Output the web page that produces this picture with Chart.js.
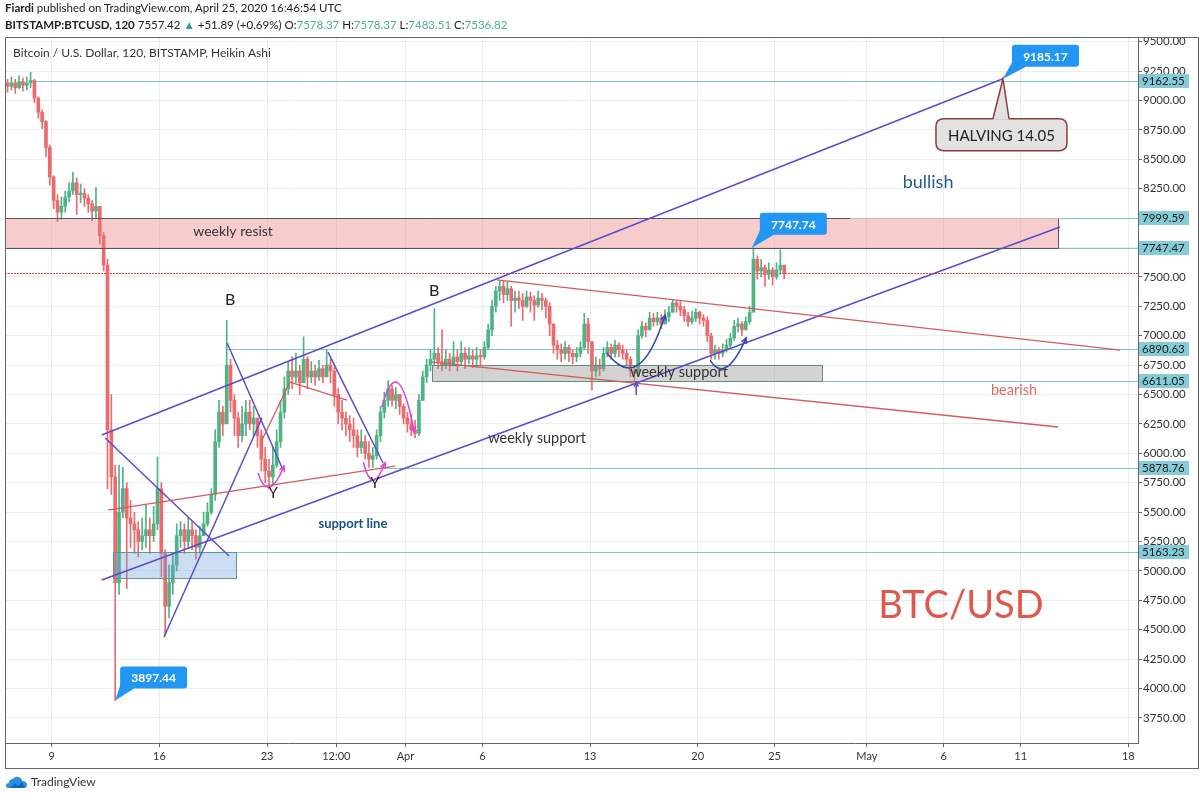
<!DOCTYPE html>
<html><head><meta charset="utf-8">
<script src="https://cdn.jsdelivr.net/npm/chart.js@4.4.1/dist/chart.umd.min.js"></script>
<style>
html,body{margin:0;padding:0;background:#fff;}
#wrap{position:relative;width:1200px;height:800px;overflow:hidden;}
#c{position:absolute;left:0;top:0;}
.hdr{position:absolute;left:5px;font-family:Lato,"Liberation Sans",sans-serif;font-size:11.5px;color:#222;white-space:nowrap;}
.v{color:#4fae95;}
#tv{position:absolute;left:6px;top:774px;font-family:Lato,"Liberation Sans",sans-serif;font-size:12px;color:#333;display:flex;align-items:center;gap:3px;}
</style></head><body>
<div id="wrap">
<canvas id="c" width="1200" height="800"></canvas>
<div class="hdr" style="top:1px"><b>Fiardi</b> published on TradingView.com, April 25, 2020 16:46:54 UTC</div>
<div class="hdr" style="top:18px"><b>BITSTAMP:BTCUSD, 120</b> 7557.42 <span style="color:#26a69a">&#9650;</span> +51.89 (+0.69%) O:<span class="v">7578.37</span> H:<span class="v">7578.37</span> L:<span class="v">7483.51</span> C:<span class="v">7536.82</span></div>
<div id="tv"><svg width="22" height="14" viewBox="0 0 22 14"><path d="M2 13 Q0 13 0 10.5 Q0 8 3 8 Q3 4 7 4 Q9 1 12.5 2 Q16 3 16 6 Q21 6 21 10 Q21 13 18 13 Z" fill="#2a8fe0"/><path d="M4 13 L9 8 L12 11 L16 7 L19 13 Z" fill="#1565c0"/></svg><span>TradingView</span></div>
</div>
<script>
// ---------- DATA ----------
const xTickValues = [9, 16, 23, 27.5, 32, 37, 44, 51, 56, 62, 67, 72, 79];
const xTickLabels = ['9', '16', '23', '12:00', 'Apr', '6', '13', '20', '25', 'May', '6', '11', '18'];
const yTickValues = [3750, 4000, 4250, 4500, 4750, 5000, 5250, 5500, 5750, 6000, 6250, 6500, 6750, 7000, 7250, 7500, 7750, 8000, 8250, 8500, 8750, 9000, 9250, 9500];
const levelPrices = [9162.55, 7999.59, 7747.47, 6890.63, 6611.05, 5878.76, 5163.23];
const levelStarts = [7.72, 74.43, 74.43, 20.40, 59.08, 30.35, 20.98];
const lastPrice = 7536.82;

// 6-hour Heikin Ashi candles, first one starts Mar 6 00:00 (x = day of month, Apr 1 = 32)
const firstDay = 6;
const candleStep = 0.25;
const firstOpen = 9150;
const closes = [
 9120, 9150, 9110, 9160,  9130, 9150, 9170, 9020,  8900, 8820, 8600, 8350,
 8150, 8050, 8100, 8180,  8230, 8300, 8200, 8210,  8170, 8120, 8060, 8100,
 7850, 7600, 6200, 5800,  4900, 5500, 5700, 5450,  5400, 5350, 5250, 5300,
 5350, 5300, 5400, 5700,  5150, 4700, 4900, 5050,  5300, 5350, 5250, 5350,
 5300, 5200, 5300, 5400,  5500, 5650, 6100, 6350,  6250, 6750, 6450, 6300,
 6150, 6250, 6350, 6250,  6300, 6150, 5950, 5850,  5800, 5900, 6100, 6350,
 6550, 6700, 6650, 6700,  6600, 6800, 6650, 6700,  6650, 6720, 6650, 6750,
 6700, 6500, 6350, 6300,  6250, 6200, 6150, 6050,  6100, 6000, 5950, 5980,
 6150, 6350, 6450, 6550,  6450, 6500, 6400, 6300,  6250, 6200, 6170, 6450,
 6650, 6750, 6800, 6850,  6780, 6750, 6800, 6760,  6820, 6780, 6850, 6800,
 6830, 6800, 6830, 6820,  6900, 7050, 7250, 7380,  7420, 7350, 7400, 7300,
 7320, 7300, 7250, 7330,  7300, 7260, 7320, 7300,  7250, 7100, 6920, 6880,
 6850, 6900, 6850, 6820,  6850, 6900, 7100, 6950,  6700, 6750, 6720, 6850,
 6900, 6850, 6920, 6880,  6850, 6800, 6700, 6680,  7000, 7080, 7050, 7150,
 7120, 7150, 7100, 7160,  7200, 7280, 7250, 7220,  7170, 7120, 7150, 7200,
 7150, 7130, 7000, 6850,  6880, 6850, 6880, 6920,  6980, 7080, 7100, 7050,
 7120, 7200, 7650, 7550,  7580, 7520, 7560, 7500,  7560, 7600, 7536.82
];
const highs = [
 9180, 9200, 9180, 9210,  9190, 9200, 9240, 9180,  9030, 8920, 8830, 8620,
 8360, 8200, 8180, 8230,  8300, 8390, 8340, 8290,  8250, 8200, 8150, 8260,
 8100, 7880, 7650, 6500,  5900, 5900, 5880, 5750,  5600, 5500, 5420, 5450,
 5560, 5450, 5550, 5970,  5750, 5180, 5050, 5150,  5400, 5420, 5400, 5450,
 5420, 5350, 5380, 5500,  5580, 5700, 6200, 6450,  6400, 7130, 6800, 6500,
 6350, 6400, 6450, 6450,  6400, 6300, 6200, 6050,  5950, 6050, 6200, 6450,
 6650, 6780, 6820, 6850,  6750, 6990, 6820, 6780,  6750, 6790, 6750, 6880,
 6800, 6730, 6550, 6450,  6350, 6320, 6300, 6200,  6200, 6150, 6100, 6050,
 6200, 6400, 6520, 6620,  6580, 6560, 6500, 6420,  6350, 6330, 6280, 6500,
 6700, 6800, 6880, 7230,  6900, 7050, 6880, 6850,  6950, 6880, 6950, 6900,
 6900, 6880, 6900, 6880,  6950, 7100, 7300, 7420,  7470, 7470, 7460, 7420,
 7380, 7380, 7360, 7380,  7370, 7340, 7380, 7360,  7320, 7280, 7100, 6960,
 6930, 6950, 6920, 6880,  6900, 6950, 7190, 7150,  6950, 6820, 6800, 6900,
 6950, 6930, 6960, 6940,  6920, 6880, 6820, 6750,  7050, 7120, 7110, 7200,
 7190, 7200, 7180, 7220,  7250, 7310, 7300, 7290,  7250, 7200, 7210, 7230,
 7210, 7180, 7160, 7020,  6920, 6900, 6930, 6970,  7020, 7130, 7150, 7120,
 7160, 7250, 7747.74, 7680,  7650, 7600, 7620, 7580,  7620, 7730, 7600
];
const lows = [
 9070, 9090, 9060, 9100,  9080, 9090, 9110, 8980,  8850, 8760, 8520, 8280,
 8080, 7970, 7990, 8050,  8140, 8200, 8030, 8130,  8100, 8050, 7980, 8000,
 7780, 7550, 5700, 5650,  3897.44, 4800, 5450, 4850,  5200, 5150, 5120, 5180,
 5200, 5150, 5250, 5350,  4950, 4450, 4600, 4800,  5000, 5200, 5150, 5200,
 5180, 5100, 5150, 5300,  5380, 5480, 5600, 6050,  6150, 6300, 6350, 6150,
 6050, 6100, 6150, 6200,  6150, 6050, 5850, 5750,  5700, 5720, 5880, 6050,
 6300, 6500, 6550, 6600,  6500, 6600, 6550, 6600,  6580, 6620, 6600, 6650,
 6600, 6400, 6250, 6200,  6150, 6100, 6050, 5970,  6000, 5950, 5880, 5880,
 5950, 6100, 6300, 6400,  6400, 6380, 6330, 6250,  6180, 6150, 6130, 6150,
 6450, 6600, 6700, 6750,  6720, 6700, 6720, 6700,  6740, 6700, 6750, 6720,
 6760, 6730, 6730, 6750,  6800, 6880, 7000, 7200,  7300, 7280, 7300, 7080,
 7200, 7230, 7130, 7240,  7200, 7130, 7240, 7220,  7150, 7000, 6850, 6800,
 6780, 6800, 6780, 6760,  6780, 6820, 6880, 6850,  6540, 6650, 6660, 6700,
 6820, 6800, 6820, 6820,  6800, 6750, 6650, 6620,  6650, 6980, 6990, 7050,
 7080, 7090, 7060, 7100,  7120, 7200, 7200, 7170,  7120, 7080, 7100, 7120,
 7100, 7080, 6950, 6800,  6800, 6800, 6820, 6860,  6900, 6960, 7030, 7000,
 7050, 7100, 7200, 7480,  7500, 7420, 7480, 7430,  7480, 7520, 7483.51
];

// ---------- DRAWINGS (data coordinates: [day, price]) ----------
const PURPLE = '#5a4ccf', REDL = '#d65a5a', MAGENTA = '#e040d8', NAVY = '#3347b8';
const trendLines = [
  { a: [12.25, 6156], b: [70.85, 9185.17], c: PURPLE, w: 1.5 },
  { a: [12.25, 4923], b: [74.56, 7924], c: PURPLE, w: 1.5 },
  { a: [12.47, 6130], b: [20.53, 5127], c: PURPLE, w: 1.5 },
  { a: [16.30, 4438], b: [22.67, 6300], c: PURPLE, w: 1.5 },
  { a: [20.40, 6938], b: [24.04, 5858], c: PURPLE, w: 1.5 },
  { a: [26.96, 6861], b: [30.54, 5918], c: PURPLE, w: 1.5 },
  { a: [12.66, 5518], b: [31.32, 5892], c: REDL, w: 1.3 },
  { a: [22.67, 6113], b: [24.49, 6606], c: REDL, w: 1.3 },
  { a: [24.49, 6606], b: [28.20, 6453], c: REDL, w: 1.3 },
  { a: [33.73, 6776], b: [74.43, 6224], c: REDL, w: 1.3 },
  { a: [37.96, 7474], b: [78.47, 6878], c: REDL, w: 1.3 }
];
const zones = [
  { x0: 5.96, x1: 74.43, p0: 7747.47, p1: 7999.59, fill: 'rgba(232,128,128,0.40)', stroke: '#555' },
  { x0: 33.73, x1: 59.08, p0: 6611.05, p1: 6751, fill: 'rgba(150,150,150,0.42)', stroke: '#5e9278' },
  { x0: 12.98, x1: 20.98, p0: 4940, p1: 5163.23, fill: 'rgba(110,160,220,0.35)', stroke: '#5e9a88' }
];
const arcs = [
  { a: [22.41, 5832], c: [23.07, 5562], b: [24.10, 5892], col: MAGENTA },
  { a: [29.26, 5926], c: [29.82, 5624], b: [30.67, 5918], col: MAGENTA },
  { a: [30.47, 6394], c: [31.52, 6908], b: [32.57, 6181], col: MAGENTA },
  { a: [45.10, 6853], c: [47.23, 6487], b: [48.88, 7176], col: NAVY },
  { a: [51.81, 6793], c: [52.78, 6581], b: [54.15, 6980], col: NAVY }
];
const notes = [
  { t: 'weekly resist', x: 20.79, p: 7890, size: 14, color: '#333', bold: false },
  { t: 'B', x: 20.60, p: 7304, size: 16, color: '#222', bold: false },
  { t: 'B', x: 33.86, p: 7380, size: 16, color: '#222', bold: false },
  { t: 'Y', x: 23.39, p: 5662, size: 15, color: '#222', bold: false },
  { t: 'Y', x: 30.02, p: 5747, size: 15, color: '#222', bold: false },
  { t: 'weekly support', x: 40.56, p: 6130, size: 14.5, color: '#333', bold: false },
  { t: 'weekly support', x: 49.79, p: 6691, size: 14.5, color: '#333', bold: false },
  { t: 'support line', x: 28.58, p: 5399, size: 13, color: '#1d4f8c', bold: true },
  { t: 'bullish', x: 65.98, p: 8307, size: 18, color: '#235a93', bold: false },
  { t: 'bearish', x: 71.57, p: 6538, size: 14.5, color: '#df6b5d', bold: false },
  { t: 'BTC/USD', x: 68.12, p: 4702, size: 38, color: '#e0584a', bold: false }
];
const callouts = [
  { t: '9185.17', x: 70.85, p: 9185.17, dx: 9, dy: -34 },
  { t: '7747.74', x: 54.52, p: 7747.74, dx: 8, dy: -35 },
  { t: '3897.44', x: 13.12, p: 3897.44, dx: 5, dy: -34 }
];
const halving = { t: 'HALVING 14.05', x: 70.85, p: 9185.17 };

// ---------- BUILD ----------
const GREEN = '#4fb386', RED = '#ec6a6e';
const FONT = 'Lato, "Liberation Sans", sans-serif';
const candles = closes.map((c, i) => ({
  x: firstDay + i * candleStep + candleStep / 2,
  o: i === 0 ? firstOpen : closes[i - 1],
  c: c, h: highs[i], l: lows[i]
}));
const colorOf = k => (k.c >= k.o ? GREEN : RED);

function arrowHead(ctx, fx, fy, tx, ty, len) {
  const ang = Math.atan2(ty - fy, tx - fx);
  ctx.beginPath();
  ctx.moveTo(tx - len * Math.cos(ang - 0.45), ty - len * Math.sin(ang - 0.45));
  ctx.lineTo(tx, ty);
  ctx.lineTo(tx - len * Math.cos(ang + 0.45), ty - len * Math.sin(ang + 0.45));
  ctx.stroke();
}
function rrect(ctx, x, y, w, h, r) {
  ctx.beginPath();
  ctx.moveTo(x + r, y); ctx.lineTo(x + w - r, y); ctx.quadraticCurveTo(x + w, y, x + w, y + r);
  ctx.lineTo(x + w, y + h - r); ctx.quadraticCurveTo(x + w, y + h, x + w - r, y + h);
  ctx.lineTo(x + r, y + h); ctx.quadraticCurveTo(x, y + h, x, y + h - r);
  ctx.lineTo(x, y + r); ctx.quadraticCurveTo(x, y, x + r, y); ctx.closePath();
}

const drawings = {
  id: 'drawings',
  beforeDatasetsDraw(chart) {
    const { ctx, chartArea: A, scales: { x, y } } = chart;
    ctx.save();
    ctx.beginPath(); ctx.rect(A.left, A.top, A.right - A.left, A.bottom - A.top); ctx.clip();
    ctx.strokeStyle = '#80c6d6'; ctx.lineWidth = 1;
    levelPrices.forEach((p, i) => {
      const py = Math.round(y.getPixelForValue(p)) + 0.5;
      ctx.beginPath(); ctx.moveTo(x.getPixelForValue(levelStarts[i]), py); ctx.lineTo(A.right, py); ctx.stroke();
    });
    // last price: red dotted line
    const lp = Math.round(y.getPixelForValue(lastPrice));
    ctx.fillStyle = '#e5484d';
    for (let px = Math.round(A.left); px < A.right; px += 3) ctx.fillRect(px, lp, 2, 1);
    ctx.restore();
  },
  afterDatasetsDraw(chart) {
    const { ctx, chartArea: A, scales: { x, y } } = chart;
    const X = v => x.getPixelForValue(v), Y = v => y.getPixelForValue(v);
    ctx.save();
    ctx.beginPath(); ctx.rect(A.left, A.top, A.right - A.left, A.bottom - A.top); ctx.clip();
    // zones
    zones.forEach((z, i) => {
      const x0 = Math.round(X(z.x0)) + 0.5, x1 = Math.round(X(z.x1)) + 0.5;
      const y0 = Math.round(Y(z.p1)) + 0.5, y1 = Math.round(Y(z.p0)) + 0.5;
      ctx.fillStyle = z.fill; ctx.fillRect(x0, y0, x1 - x0, y1 - y0);
      ctx.strokeStyle = z.stroke; ctx.lineWidth = 1;
      if (i === 0) {
        ctx.beginPath();
        ctx.moveTo(x0, y0); ctx.lineTo(X(60.91), y0);
        ctx.moveTo(x0, y1); ctx.lineTo(x1, y1); ctx.lineTo(x1, y0);
        ctx.stroke();
        ctx.strokeStyle = '#d9b0b0';
        ctx.beginPath(); ctx.moveTo(X(60.91), y0); ctx.lineTo(x1, y0); ctx.stroke();
      } else {
        ctx.strokeRect(x0, y0, x1 - x0, y1 - y0);
      }
    });
    // trend lines
    trendLines.forEach(l => {
      ctx.strokeStyle = l.c; ctx.lineWidth = l.w;
      ctx.beginPath(); ctx.moveTo(X(l.a[0]), Y(l.a[1])); ctx.lineTo(X(l.b[0]), Y(l.b[1])); ctx.stroke();
    });
    // arcs with arrows
    arcs.forEach(c => {
      ctx.strokeStyle = c.col; ctx.lineWidth = 1.5;
      const ax = X(c.a[0]), ay = Y(c.a[1]), cx = X(c.c[0]), cy = Y(c.c[1]), bx = X(c.b[0]), by = Y(c.b[1]);
      ctx.beginPath(); ctx.moveTo(ax, ay); ctx.quadraticCurveTo(cx, cy, bx, by); ctx.stroke();
      arrowHead(ctx, cx, cy, bx, by, 6);
    });
    // small up arrow
    ctx.strokeStyle = PURPLE; ctx.lineWidth = 1.5;
    ctx.beginPath(); ctx.moveTo(X(47.0), Y(6496)); ctx.lineTo(X(47.0), Y(6606)); ctx.stroke();
    arrowHead(ctx, X(47.0), Y(6496), X(47.0), Y(6606), 5);
    // text notes
    ctx.textAlign = 'center'; ctx.textBaseline = 'middle';
    notes.forEach(n => {
      ctx.fillStyle = n.color;
      ctx.font = (n.bold ? 'bold ' : '') + n.size + 'px ' + FONT;
      ctx.fillText(n.t, X(n.x), Y(n.p));
    });
    ctx.restore();

    // halving box
    ctx.save();
    const hx = X(halving.x), hy = Y(halving.p);
    const bx = hx - 67, by = hy + 40, bw = 131, bh = 32;
    ctx.fillStyle = '#e2e2e2'; ctx.strokeStyle = '#8e3c3c'; ctx.lineWidth = 1.5;
    rrect(ctx, bx, by, bw, bh, 8); ctx.fill(); ctx.stroke();
    ctx.beginPath(); ctx.moveTo(hx - 10, by + 1); ctx.lineTo(hx, hy); ctx.lineTo(hx + 6, by + 1); ctx.closePath();
    ctx.fill();
    ctx.beginPath(); ctx.moveTo(hx - 10, by); ctx.lineTo(hx, hy); ctx.lineTo(hx + 6, by); ctx.stroke();
    ctx.fillStyle = '#222'; ctx.font = '15px ' + FONT; ctx.textAlign = 'center'; ctx.textBaseline = 'middle';
    ctx.fillText(halving.t, bx + bw / 2, by + bh / 2 + 1);
    // callouts
    callouts.forEach(c => {
      const ax = X(c.x), ay = Y(c.p);
      const cx = ax + c.dx, cy = ay + c.dy, w = 67, h = 22;
      ctx.fillStyle = '#2196f3';
      rrect(ctx, cx, cy, w, h, 3); ctx.fill();
      ctx.beginPath(); ctx.moveTo(cx + 1, cy + h - 6); ctx.lineTo(cx + 14, cy + h); ctx.lineTo(ax, ay); ctx.closePath(); ctx.fill();
      ctx.fillStyle = '#fff'; ctx.font = 'bold 12px ' + FONT;
      ctx.fillText(c.t, cx + w / 2, cy + h / 2 + 1);
    });
    ctx.restore();
  },
  afterDraw(chart) {
    const { ctx, chartArea: A, scales: { y } } = chart;
    ctx.save();
    // level labels on the price axis
    ctx.font = '11.5px ' + FONT; ctx.textAlign = 'left'; ctx.textBaseline = 'middle';
    levelPrices.forEach(p => {
      const py = Math.round(y.getPixelForValue(p));
      ctx.fillStyle = '#86cbd8'; ctx.fillRect(A.right + 1, py - 7, 50, 14);
      ctx.fillStyle = '#1a1a1a'; ctx.fillText(p.toFixed(2), A.right + 4, py + 0.5);
    });
    // frame
    ctx.strokeStyle = '#666'; ctx.lineWidth = 1;
    ctx.strokeRect(5.5, 37.5, 1193, 731);
    // title
    ctx.fillStyle = '#333'; ctx.font = '12px ' + FONT;
    ctx.fillText('Bitcoin / U.S. Dollar, 120, BITSTAMP, Heikin Ashi', 13, 53);
    ctx.restore();
  }
};

new Chart(document.getElementById('c'), {
  type: 'bar',
  data: {
    datasets: [
      { label: 'wick', data: candles.map(k => ({ x: k.x, y: [k.l, k.h] })), backgroundColor: candles.map(colorOf),
        barThickness: 1, grouped: false, borderWidth: 0, order: 2 },
      { label: 'body', data: candles.map(k => ({ x: k.x, y: [k.o, k.c] })), backgroundColor: candles.map(colorOf),
        barThickness: 3, grouped: false, borderWidth: 0, minBarLength: 1, order: 1 }
    ]
  },
  options: {
    responsive: false, animation: false, devicePixelRatio: 1,
    layout: { padding: { left: 5, top: 37, right: 1, bottom: 32 } },
    plugins: { legend: { display: false }, tooltip: { enabled: false } },
    scales: {
      x: {
        type: 'linear', min: 5.96, max: 79.63, offset: false,
        grid: { offset: false, color: '#eaeef3', tickColor: '#666', tickLength: 4 },
        border: { display: true, color: '#666' },
        ticks: { autoSkip: false, maxRotation: 0, color: '#333', padding: 3, font: { family: FONT, size: 11 },
          callback: (v, i) => xTickLabels[i] },
        afterBuildTicks: s => { s.ticks = xTickValues.map(v => ({ value: v })); },
        afterFit: s => { s.height = 25; }
      },
      y: {
        type: 'linear', position: 'right', min: 3537, max: 9540,
        grid: { color: '#eaeef3', tickColor: '#666', tickLength: 4 },
        border: { display: true, color: '#666' },
        ticks: { color: '#333', padding: 1, font: { family: FONT, size: 11.5 }, callback: v => Number(v).toFixed(2) },
        afterBuildTicks: s => { s.ticks = yTickValues.map(v => ({ value: v })); },
        afterFit: s => { s.width = 61; }
      }
    }
  },
  plugins: [drawings]
});
</script>
</body></html>
